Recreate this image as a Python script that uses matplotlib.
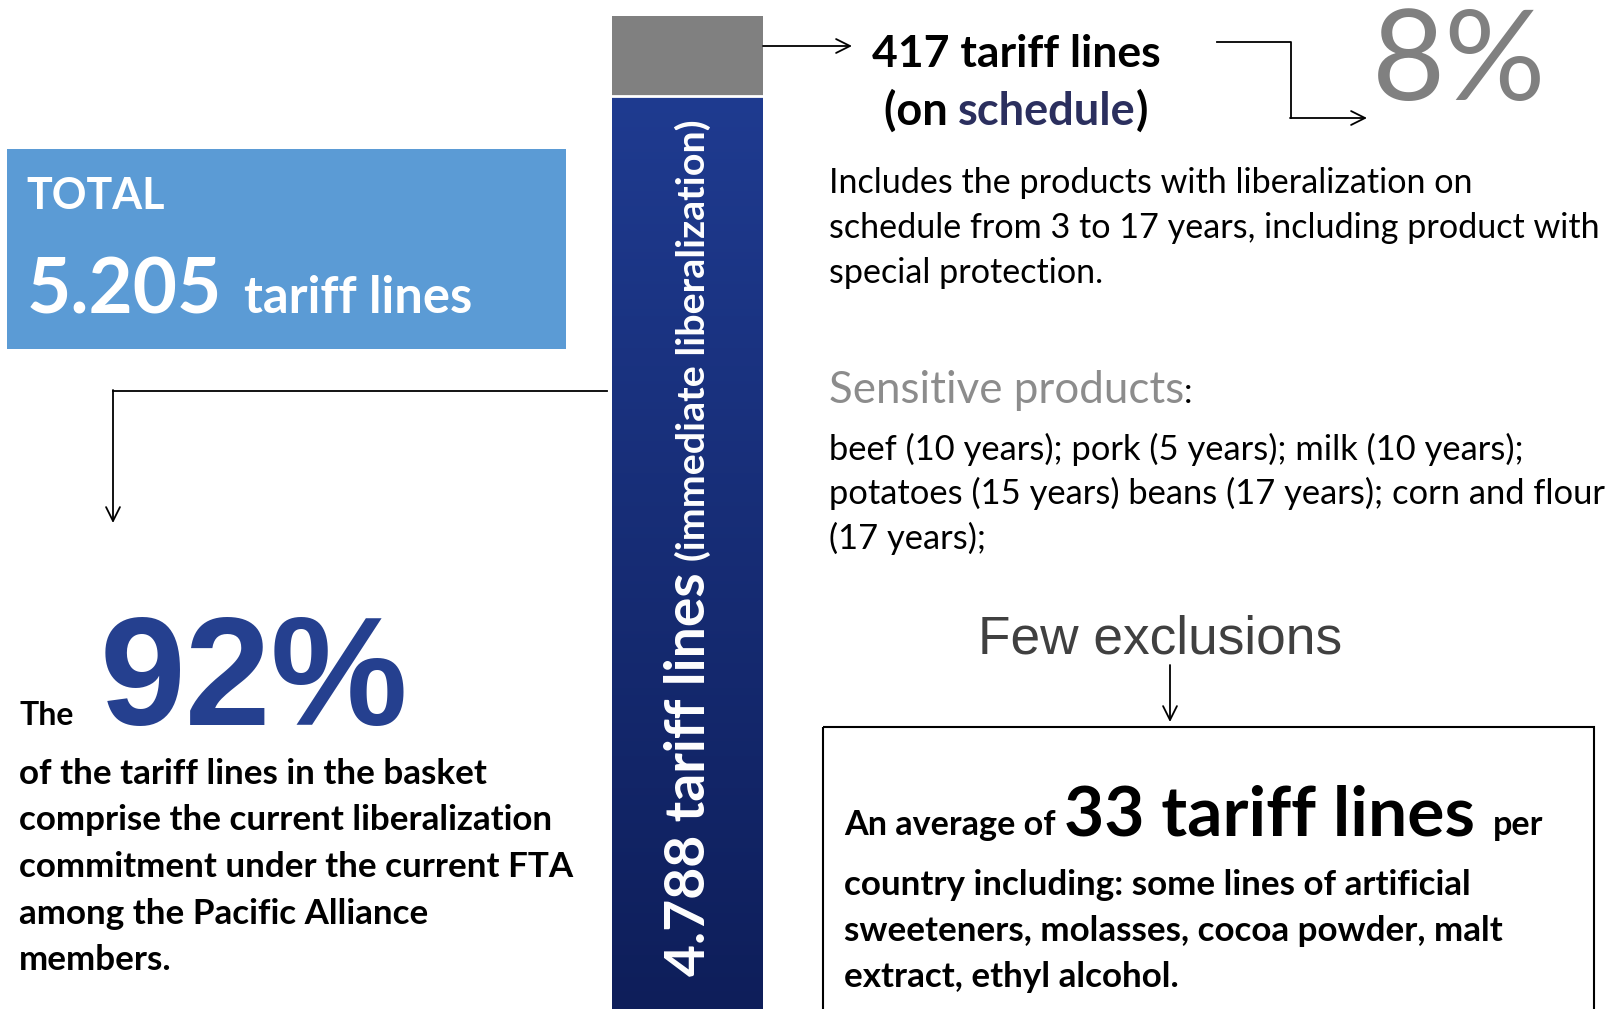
import matplotlib
matplotlib.use("Agg")
import matplotlib.pyplot as plt
import numpy as np
from matplotlib.colors import LinearSegmentedColormap

# data
segments = ["immediate liberalization", "on schedule"]
tariff_lines = [4788, 417]
avg_exclusions = 33
sensitive_lines = [
    "beef (10 years); pork (5 years); milk (10 years);",
    "potatoes (15 years) beans (17 years); corn and flour",
    "(17 years);",
]
schedule_lines = [
    "Includes the products with liberalization on",
    "schedule from 3 to 17 years, including product with",
    "special protection.",
]
left_lines = [
    "of the tariff lines in the basket",
    "comprise the current liberalization",
    "commitment under the current FTA",
    "among the Pacific Alliance",
    "members.",
]
excl_lines = [
    "country including: some lines of artificial",
    "sweeteners, molasses, cocoa powder, malt",
    "extract, ethyl alcohol.",
]

total = sum(tariff_lines)
pct = [round(100 * v / total) for v in tariff_lines]

FONT = "Lato"
W, H = 1614, 1009
BLUE_TOP = "#1f3b90"
BLUE_BOT = "#0e1e5a"

fig = plt.figure(figsize=(W / 100, H / 100), dpi=100)

# stacked bar
axb = fig.add_axes([612 / W, 0, 151 / W, (H - 16) / H])
bars = axb.bar([0, 0], tariff_lines, bottom=[0, tariff_lines[0]], width=1.0,
               color=["none", "#808080"], linewidth=0)
grad = np.linspace(0, 1, 256).reshape(-1, 1)
cmap = LinearSegmentedColormap.from_list("bb", [BLUE_BOT, BLUE_TOP])
img = axb.imshow(grad, extent=(-0.5, 0.5, 0, tariff_lines[0]), origin="lower",
                 cmap=cmap, aspect="auto", zorder=1)
img.set_clip_path(bars[0])
axb.axhline(tariff_lines[0], color="white", lw=2, zorder=3)
axb.set_xlim(-0.5, 0.5)
axb.set_ylim(0, total)
axb.axis("off")

# overlay in pixel coords
ax = fig.add_axes([0, 0, 1, 1], zorder=5)
ax.set_xlim(0, W)
ax.set_ylim(H, 0)
ax.axis("off")

renderer = fig.canvas.get_renderer()


def draw_runs(x, y, parts, center=False, **kw):
    texts = []
    cur = x
    for s, style, gap in parts:
        props = {"family": FONT, **kw, **style}
        t = ax.text(cur, y, s, ha="left", va="baseline", **props)
        bb = t.get_window_extent(renderer)
        cur = ax.transData.inverted().transform((bb.x1, bb.y0))[0] + gap
        texts.append(t)
    if center:
        width = cur - x
        for t in texts:
            px, py = t.get_position()
            t.set_position((px - width / 2, py))
    return cur


def arrow(x0, y0, x1, y1):
    ax.annotate("", xy=(x1, y1), xytext=(x0, y0),
                arrowprops=dict(arrowstyle="->", lw=1.3, color="black",
                                mutation_scale=25, shrinkA=0, shrinkB=0))


# TOTAL box
ax.add_patch(plt.Rectangle((7, 149), 559, 200, color="#5b9bd5", lw=0))
ax.text(26, 209, "TOTAL", color="white", fontsize=31, fontweight="bold",
        family=FONT, va="baseline")
draw_runs(27, 313, [(f"{total:,}".replace(",", "."), dict(fontsize=55), 22),
                    ("tariff lines", dict(fontsize=36.5), 0)],
          color="white", fontweight="bold")

# left connector
ax.plot([607, 113], [391, 391], color="black", lw=1.3)
arrow(113, 390, 113, 523)

ax.text(19, 725, "The", fontsize=23, fontweight="bold", family=FONT, va="baseline")
ax.text(100, 725, f"{pct[0]}%", fontsize=111, fontweight="bold",
        family="Liberation Sans", color="#25408f", va="baseline")
for i, line in enumerate(left_lines):
    ax.text(19, 784 + i * 46.5, line, fontsize=25.2, fontweight="bold",
            family=FONT, va="baseline")

# rotated labels inside the bar
ax.text(705, 976, f"{tariff_lines[0]:,}".replace(",", ".") + " tariff lines",
        rotation=90, rotation_mode="anchor", ha="left", va="baseline",
        color="white", fontsize=39.8, fontweight="bold", family=FONT)
ax.text(705, 561, "(" + segments[0] + ")", rotation=90, rotation_mode="anchor",
        ha="left", va="baseline", color="white", fontsize=28.4,
        fontweight="bold", family=FONT)

# top right
arrow(763, 46, 852, 46)
ax.text(1016, 67, f"{tariff_lines[1]} tariff lines", ha="center", va="baseline",
        fontsize=32, fontweight="bold", family=FONT)
draw_runs(1016, 125, [("(on ", {}, 0), (segments[1].split()[1], dict(color="#2b2f5e"), 0),
                      (")", {}, 0)], center=True, fontsize=32.5, fontweight="bold")

ax.plot([1217, 1291, 1291], [42, 42, 118], color="black", lw=1.3)
arrow(1290, 118, 1367, 118)
ax.text(1372, 100, f"{pct[1]}%", fontsize=91, fontweight="normal", family=FONT,
        color="#808080", va="baseline")

for i, line in enumerate(schedule_lines):
    ax.text(829, 193 + i * 45, line, fontsize=24.6, family=FONT, va="baseline")

draw_runs(829, 403, [("Sensitive products", dict(color="#8c8c8c"), 0),
                     (":", dict(color="black", fontsize=24.6), 0)], fontsize=31.6)
for i, line in enumerate(sensitive_lines):
    ax.text(829, 460 + i * 44.5, line, fontsize=24.8, family=FONT, va="baseline")

# exclusions
ax.text(1160, 653, "Few exclusions", ha="center", va="baseline", fontsize=38.3,
        family="Liberation Sans", color="#404040")
arrow(1170, 665, 1170, 722)
ax.add_patch(plt.Rectangle((823, 727), 771, 300, fill=False, ec="black", lw=1.5))
draw_runs(844, 835, [("An average of", dict(fontsize=24.6), 8),
                     (f"{avg_exclusions} tariff lines", dict(fontsize=50), 18),
                     ("per", dict(fontsize=24.6), 0)], fontweight="bold")
for i, line in enumerate(excl_lines):
    ax.text(844, 895 + i * 46, line, fontsize=25.2, fontweight="bold",
            family=FONT, va="baseline")

fig.savefig("out.png", dpi=100)
